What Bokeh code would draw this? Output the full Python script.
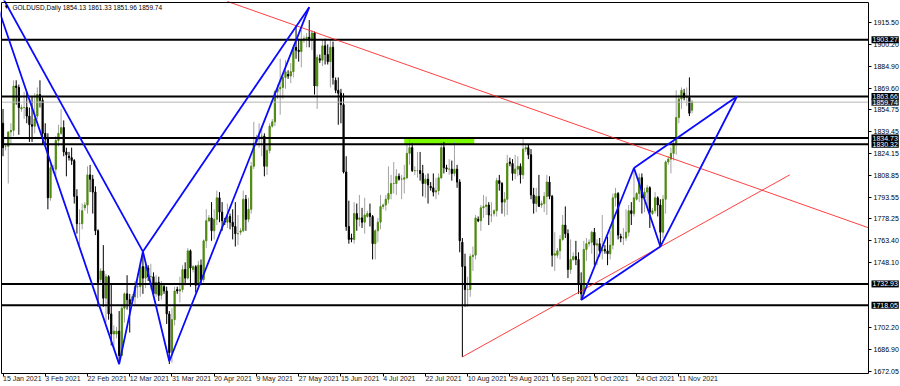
from bokeh.plotting import figure
from bokeh.models import (Range1d, FixedTicker, Label, NumeralTickFormatter,
                          ColumnDataSource, LinearAxis)
from bokeh.embed import file_html
from bokeh.resources import INLINE

# ---------------- data (one bar per trading day incl. short Sunday bars) ----------------
opens = [
    1845,
    1829, 1829, 1839, 1840, 1871, 1870,
    1855, 1856, 1856, 1850, 1844, 1843,
    1850, 1865, 1861, 1838, 1834, 1793,
    1813, 1813, 1833, 1838, 1842, 1825,
    1822, 1821, 1819, 1794, 1775, 1775,
    1786, 1788, 1809, 1806, 1797, 1770,
    1736, 1742, 1723, 1738, 1712, 1698,
    1698, 1700, 1683, 1716, 1726, 1722,
    1721, 1724, 1731, 1731, 1745, 1737,
    1744, 1738, 1738, 1726, 1734, 1725,
    1731, 1728, 1712, 1685, 1708,
    1729, 1728, 1729, 1743, 1737, 1756,
    1743, 1745, 1732, 1746, 1736, 1763,
    1777, 1779, 1770, 1778, 1793, 1783,
    1777, 1776, 1780, 1776, 1773, 1768,
    1769, 1770, 1792, 1778, 1785, 1815,
    1832, 1834, 1836, 1836, 1815, 1826,
    1843, 1846, 1867, 1869, 1870, 1877,
    1879, 1878, 1881, 1898, 1896, 1895,
    1903, 1904, 1905, 1903, 1908, 1871,
    1890, 1889, 1899, 1893, 1888, 1898,
    1875, 1868, 1866, 1858, 1811, 1773,
    1765, 1764, 1782, 1778, 1779, 1776,
    1780, 1782, 1780, 1761, 1770, 1776,
    1787, 1788, 1792, 1796, 1803, 1803,
    1808, 1806, 1806, 1807, 1824, 1828,
    1812, 1812, 1812, 1810, 1803, 1806,
    1801, 1800, 1797, 1798, 1807, 1828,
    1814, 1813, 1813, 1810, 1813, 1804,
    1762, 1745, 1729, 1729, 1752, 1753,
    1778, 1777, 1786, 1787, 1788, 1781,
    1782, 1784, 1805, 1803, 1790, 1792,
    1818, 1817, 1810, 1813, 1815, 1809,
    1827, 1828, 1823, 1795, 1789, 1794,
    1788, 1789, 1794, 1804, 1794, 1753,
    1753, 1756, 1764, 1774, 1768, 1743,
    1750, 1752, 1750, 1733, 1726, 1757,
    1761, 1762, 1769, 1760, 1761, 1756,
    1757, 1756, 1754, 1760, 1793, 1796,
    1766, 1765, 1765, 1769, 1784, 1782,
    1792, 1796, 1807, 1793, 1797, 1800,
    1782, 1784, 1793, 1788, 1769, 1792,
    1818, 1820, 1824, 1831, 1849, 1862,
    1866, 1863, 1863, 1854.13,
]
highs = [
    1855,
    1831, 1839, 1845, 1875, 1875, 1872,
    1858, 1867, 1867, 1856, 1864, 1866,
    1870, 1875, 1863, 1845, 1838, 1817,
    1816, 1836, 1844, 1855, 1847, 1828,
    1825, 1828, 1820, 1799, 1785, 1789,
    1790, 1815, 1816, 1809, 1801, 1771,
    1744, 1760, 1740, 1739, 1733, 1704,
    1703, 1714, 1719, 1727, 1739, 1726,
    1726, 1735, 1740, 1749, 1755, 1747,
    1746, 1747, 1741, 1739, 1738, 1735,
    1733, 1731, 1714, 1716, 1731,
    1731, 1738, 1746, 1748, 1758, 1757,
    1746, 1746, 1749, 1750, 1764, 1785,
    1781, 1790, 1785, 1798, 1797, 1790,
    1779, 1789, 1782, 1785, 1790, 1781,
    1772, 1798, 1795, 1793, 1818, 1846,
    1837, 1845, 1843, 1838, 1830, 1845,
    1848, 1868, 1872, 1890, 1879, 1889,
    1882, 1887, 1900, 1913, 1904, 1910,
    1906, 1908, 1917, 1910, 1909, 1893,
    1893, 1903, 1904, 1900, 1903, 1902,
    1877, 1877, 1869, 1866, 1822, 1791,
    1768, 1790, 1789, 1795, 1786, 1793,
    1784, 1789, 1781, 1771, 1779, 1795,
    1789, 1795, 1815, 1809, 1818, 1813,
    1810, 1809, 1816, 1830, 1834, 1831,
    1815, 1825, 1825, 1816, 1809, 1810,
    1804, 1810, 1807, 1810, 1832, 1832,
    1816, 1820, 1819, 1832, 1816, 1806,
    1765, 1754, 1738, 1754, 1759, 1781,
    1780, 1788, 1795, 1794, 1790, 1790,
    1785, 1807, 1809, 1804, 1797, 1823,
    1821, 1820, 1823, 1822, 1817, 1834,
    1830, 1830, 1827, 1800, 1800, 1809,
    1791, 1797, 1809, 1808, 1795, 1769,
    1758, 1767, 1781, 1787, 1771, 1764,
    1755, 1763, 1755, 1741, 1763, 1765,
    1764, 1770, 1772, 1764, 1765, 1781,
    1760, 1766, 1770, 1796, 1800, 1797,
    1768, 1772, 1785, 1788, 1790, 1814,
    1797, 1810, 1810, 1800, 1802, 1801,
    1786, 1797, 1794, 1792, 1795, 1819,
    1822, 1828, 1833, 1868, 1865, 1870,
    1869, 1870, 1877, 1861.33,
]
lows = [
    1822,
    1826, 1803, 1830, 1836, 1858, 1837,
    1853, 1848, 1845, 1832, 1832, 1838,
    1848, 1856, 1830, 1830, 1785, 1791,
    1810, 1808, 1829, 1837, 1822, 1808,
    1819, 1816, 1789, 1768, 1760, 1771,
    1784, 1782, 1797, 1782, 1767, 1717,
    1734, 1717, 1706, 1708, 1690, 1687,
    1695, 1677, 1683, 1706, 1715, 1699,
    1720, 1719, 1723, 1724, 1726, 1730,
    1735, 1729, 1724, 1724, 1721, 1722,
    1726, 1705, 1677, 1678, 1704,
    1726, 1720, 1727, 1732, 1736, 1731,
    1741, 1727, 1729, 1732, 1734, 1758,
    1776, 1763, 1764, 1774, 1776, 1770,
    1774, 1772, 1771, 1764, 1759, 1760,
    1767, 1769, 1770, 1776, 1782, 1813,
    1830, 1828, 1822, 1808, 1809, 1824,
    1842, 1843, 1862, 1851, 1862, 1869,
    1876, 1873, 1877, 1890, 1888, 1884,
    1901, 1898, 1898, 1896, 1865, 1855,
    1887, 1885, 1886, 1886, 1870, 1872,
    1866, 1844, 1845, 1810, 1770, 1761,
    1762, 1761, 1770, 1773, 1772, 1768,
    1779, 1773, 1750, 1750, 1762, 1771,
    1785, 1784, 1789, 1792, 1796, 1795,
    1805, 1792, 1796, 1806, 1816, 1811,
    1809, 1807, 1805, 1794, 1793, 1789,
    1798, 1794, 1792, 1795, 1806, 1810,
    1811, 1809, 1805, 1808, 1800, 1755,
    1682, 1717, 1717, 1724, 1742, 1750,
    1776, 1770, 1779, 1781, 1774, 1776,
    1780, 1780, 1798, 1782, 1780, 1781,
    1815, 1805, 1806, 1808, 1803, 1806,
    1825, 1820, 1792, 1782, 1783, 1787,
    1786, 1783, 1781, 1792, 1745, 1742,
    1751, 1750, 1763, 1765, 1737, 1740,
    1749, 1746, 1726, 1722, 1723, 1749,
    1759, 1754, 1746, 1746, 1752, 1750,
    1754, 1746, 1750, 1757, 1787, 1764,
    1762, 1760, 1763, 1766, 1774, 1780,
    1791, 1790, 1782, 1783, 1786, 1772,
    1781, 1782, 1780, 1759, 1765, 1782,
    1816, 1810, 1819, 1823, 1845, 1855,
    1861, 1857, 1850, 1851.96,
]
closes = [
    1828,
    1829, 1839, 1840, 1871, 1870, 1856,
    1856, 1856, 1850, 1844, 1843, 1848,
    1865, 1861, 1838, 1834, 1793, 1814,
    1813, 1833, 1838, 1842, 1825, 1823,
    1821, 1819, 1794, 1775, 1775, 1784,
    1788, 1809, 1806, 1797, 1770, 1734,
    1742, 1723, 1738, 1712, 1698, 1700,
    1700, 1683, 1716, 1726, 1722, 1719,
    1724, 1731, 1731, 1745, 1737, 1745,
    1738, 1738, 1726, 1734, 1725, 1732,
    1728, 1712, 1685, 1708, 1728,
    1728, 1729, 1743, 1737, 1756, 1744,
    1745, 1732, 1746, 1736, 1763, 1777,
    1779, 1770, 1778, 1793, 1783, 1777,
    1776, 1780, 1776, 1773, 1768, 1768,
    1770, 1792, 1778, 1785, 1815, 1831,
    1834, 1836, 1836, 1815, 1826, 1843,
    1846, 1867, 1869, 1870, 1877, 1881,
    1878, 1881, 1898, 1896, 1895, 1903,
    1904, 1905, 1903, 1908, 1871, 1891,
    1889, 1899, 1893, 1888, 1898, 1877,
    1868, 1866, 1858, 1811, 1773, 1764,
    1764, 1782, 1778, 1779, 1776, 1781,
    1782, 1780, 1761, 1770, 1776, 1787,
    1788, 1792, 1796, 1803, 1803, 1808,
    1806, 1806, 1807, 1824, 1828, 1812,
    1812, 1812, 1810, 1803, 1806, 1802,
    1800, 1797, 1798, 1807, 1828, 1814,
    1813, 1813, 1810, 1813, 1804, 1763,
    1745, 1729, 1729, 1752, 1753, 1779,
    1777, 1786, 1787, 1788, 1781, 1781,
    1784, 1805, 1803, 1790, 1792, 1817,
    1817, 1810, 1813, 1815, 1809, 1827,
    1828, 1823, 1795, 1789, 1794, 1787,
    1789, 1794, 1804, 1794, 1753, 1754,
    1756, 1764, 1774, 1768, 1743, 1750,
    1752, 1750, 1733, 1726, 1757, 1761,
    1762, 1769, 1760, 1761, 1756, 1757,
    1756, 1754, 1760, 1793, 1796, 1767,
    1765, 1765, 1769, 1784, 1782, 1793,
    1796, 1807, 1793, 1797, 1800, 1783,
    1784, 1793, 1788, 1769, 1792, 1818,
    1820, 1824, 1831, 1849, 1862, 1868,
    1863, 1863, 1852, 1859.74,
]

# bottom time scale (bar index -> label)
date_ticks = [0, 16, 32, 48, 64, 80, 96, 112, 128, 144, 160, 176, 192, 208, 224, 240, 256]
date_labels = ["15 Jan 2021", "3 Feb 2021", "22 Feb 2021", "12 Mar 2021", "31 Mar 2021",
               "20 Apr 2021", "9 May 2021", "27 May 2021", "15 Jun 2021", "4 Jul 2021",
               "22 Jul 2021", "10 Aug 2021", "29 Aug 2021", "16 Sep 2021", "5 Oct 2021",
               "24 Oct 2021", "11 Nov 2021"]

# right price scale
price_ticks = [1915.50, 1900.20, 1884.90, 1869.60, 1854.75, 1839.45, 1824.15, 1808.85,
               1793.55, 1778.25, 1763.40, 1748.10, 1702.20, 1686.90, 1672.05]

# horizontal levels and current price
level_prices = [1903.27, 1863.66, 1834.73, 1830.32, 1732.93, 1718.05]
current_price = 1859.74
title_text = "GOLDUSD,Daily  1854.13 1861.33 1851.96 1859.74"

# supply zone box (bars, prices)
zone_bars = [152, 178.5]
zone_prices = [1830.32, 1834.73]

# harmonic pattern 1: X, A, B, C, D (bar index, price)
p1_bars = [-8, 44, 53, 63, 116]
p1_prices = [1959.0, 1677.0, 1755.5, 1679.0, 1926.0]
# harmonic pattern 2: X, A, B, C
p2_bars = [219, 239, 249, 278]
p2_prices = [1721.7, 1813.8, 1759.0, 1863.66]

# red trend lines
red1_bars = [85, 328]
red1_prices = [1930.0, 1772.0]
red2_bars = [174, 298]
red2_prices = [1682.0, 1809.0]

# ---------------- layout helpers (pixel geometry of the terminal window) ----------------
FONT = "Liberation Sans"
PX_PER_BAR, BAR0_PX = 2.64, 2.5
PRICE_PER_PX, REF_PX, REF_PRICE = 0.6976, 370.7, 1672.05


def bar_at(px):
    return (px - BAR0_PX) / PX_PER_BAR


def price_at(py):
    return REF_PRICE + (REF_PX - py) * PRICE_PER_PX


W, H = 900, 386
chart_l, chart_r = bar_at(1), bar_at(868)
chart_t, chart_b = price_at(2), price_at(373)

p = figure(width=W, height=H,
           x_range=Range1d(bar_at(0), bar_at(W)), y_range=Range1d(price_at(H), price_at(0)),
           output_backend="svg", toolbar_location=None,
           x_axis_type=None, y_axis_type=None,
           min_border_left=0, min_border_right=0, min_border_top=0, min_border_bottom=0,
           background_fill_color="white", border_fill_color="white",
           outline_line_color=None)

# zone box
p.quad(left=[zone_bars[0]], right=[zone_bars[1]], bottom=[zone_prices[0]], top=[zone_prices[1]],
       fill_color="#7cfc00", line_color=None)

# candles
bull = dict(x=[], o=[], h=[], l=[], c=[], top=[], bot=[])
bear = dict(x=[], o=[], h=[], l=[], c=[], top=[], bot=[])
for i, (o, h, l, c) in enumerate(zip(opens, highs, lows, closes)):
    d = bull if c >= o else bear
    d["x"].append(i); d["o"].append(o); d["h"].append(h); d["l"].append(l); d["c"].append(c)
    d["top"].append(max(o, c)); d["bot"].append(min(o, c))
sb = ColumnDataSource(bull)
sr = ColumnDataSource(bear)
p.segment(x0="x", y0="l", x1="x", y1="h", source=sb, line_color="#a3a3a3", line_width=1)
p.segment(x0="x", y0="l", x1="x", y1="h", source=sr, line_color="black", line_width=1)
p.vbar(x="x", top="top", bottom="bot", width=0.45, source=sb,
       fill_color="#4f8a10", line_color="#4f8a10", line_width=1)
p.vbar(x="x", top="top", bottom="bot", width=0.45, source=sr,
       fill_color="black", line_color="black", line_width=1)

# horizontal levels (limited to the chart area)
p.segment(x0=[chart_l], y0=[current_price], x1=[chart_r], y1=[current_price],
          line_color="#b4b4b4", line_width=1)
p.segment(x0=[chart_l] * len(level_prices), y0=level_prices,
          x1=[chart_r] * len(level_prices), y1=level_prices,
          line_color="black", line_width=2)

# red trend lines
p.line(red1_bars, red1_prices, line_color="#ff2020", line_width=1, line_alpha=0.85)
p.line(red2_bars, red2_prices, line_color="#ff2020", line_width=1, line_alpha=0.85)

# blue harmonic patterns
BLUE = "#0a0aff"
p.line(p1_bars, p1_prices, line_color=BLUE, line_width=1.8)
p.segment(x0=[p1_bars[0], p1_bars[2]], y0=[p1_prices[0], p1_prices[2]],
          x1=[p1_bars[2], p1_bars[4]], y1=[p1_prices[2], p1_prices[4]],
          line_color=BLUE, line_width=1.8)
p.line(p2_bars, p2_prices, line_color=BLUE, line_width=1.8)
p.segment(x0=[p2_bars[0], p2_bars[1]], y0=[p2_prices[0], p2_prices[1]],
          x1=[p2_bars[2], p2_bars[3]], y1=[p2_prices[2], p2_prices[3]],
          line_color=BLUE, line_width=1.8)

# chart border (left & top; right/bottom come from the axes)
p.segment(x0=[chart_l, chart_l], y0=[chart_b, chart_t], x1=[chart_l, chart_r], y1=[chart_t, chart_t],
          line_color="black", line_width=1)

# price scale on the right edge of the chart
yax = LinearAxis(fixed_location=chart_r, bounds=(chart_b, chart_t),
                 ticker=FixedTicker(ticks=price_ticks),
                 formatter=NumeralTickFormatter(format="0.00"))
yax.major_label_text_font = FONT
yax.major_label_text_font_size = "7px"
yax.major_label_text_color = "black"
yax.major_tick_in = 0
yax.major_tick_out = 3
yax.minor_tick_line_color = None
yax.major_label_standoff = 2
yax.axis_line_color = "black"
p.add_layout(yax, "right")

# time scale below the chart (labels start at their tick)
xax = LinearAxis(fixed_location=chart_b, bounds=(chart_l, chart_r),
                 ticker=FixedTicker(ticks=date_ticks),
                 major_label_overrides={t: s for t, s in zip(date_ticks, date_labels)})
xax.major_label_orientation = -1e-6
xax.major_label_text_font = FONT
xax.major_label_text_font_size = "7px"
xax.major_label_text_color = "#1a1a1a"
xax.major_label_standoff = 2
xax.major_tick_in = 0
xax.major_tick_out = 3
xax.minor_tick_line_color = None
xax.axis_line_color = "black"
p.add_layout(xax, "below")

# title inside chart
p.add_layout(Label(x=chart_l, y=chart_t, x_offset=2, y_offset=-4.5, text="▼",
                   text_font=FONT, text_font_size="6px", text_color="black",
                   text_baseline="middle", text_align="left"))
p.add_layout(Label(x=chart_l, y=chart_t, x_offset=11, y_offset=-4.5, text=title_text,
                   text_font=FONT, text_font_size="6.5px", text_color="black",
                   text_baseline="middle", text_align="left"))

# price boxes on the scale
for lv, bg in zip(level_prices + [current_price], ["black"] * len(level_prices) + ["#222222"]):
    p.add_layout(Label(x=chart_r, y=lv, x_offset=3, text=f"{lv:.2f}",
                       text_font=FONT, text_font_size="7px", text_color="white",
                       background_fill_color=bg, text_baseline="middle", text_align="left",
                       padding=1))

open("out.html", "w").write(file_html(p, INLINE))
